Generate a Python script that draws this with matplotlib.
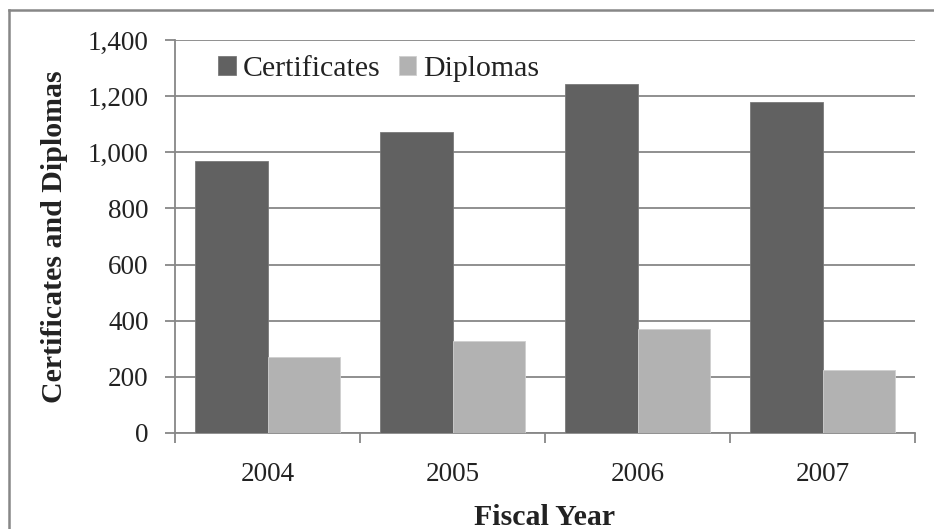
import numpy as np
import matplotlib
matplotlib.use("Agg")
import matplotlib.pyplot as plt
from matplotlib.lines import Line2D

# ─── Data ─────────────────────────────────────────────────────────────
years        = ["2004", "2005", "2006", "2007"]
certificates = [968, 1073, 1243, 1180]
diplomas     = [271, 328, 371, 223]

C_CERT = "#616161"
C_DIPL = "#b2b2b2"
C_GRID = "#878787"

plt.rcParams["font.family"] = ["Liberation Serif", "DejaVu Serif"]

fig = plt.figure(figsize=(9.34, 5.29), dpi=100)
ax = fig.add_axes([0.1874, 0.1815, 0.7923, 0.7429])

x = np.arange(len(years))
w = 0.39
ax.bar(x - w / 2, certificates, w, color=C_CERT, edgecolor="#7a7a7a",
       linewidth=0.6, label="Certificates", zorder=3)
ax.bar(x + w / 2, diplomas, w, color=C_DIPL, edgecolor="#cfcfcf",
       linewidth=0.6, label="Diplomas", zorder=3)

ax.set_xlim(-0.5, len(years) - 0.5)
ax.set_ylim(0, 1400)
ax.set_yticks(np.arange(0, 1401, 200))
ax.set_yticklabels([f"{v:,}" for v in range(0, 1401, 200)])
ax.yaxis.grid(True, color=C_GRID, linewidth=1.3, zorder=0)

# category labels centred, tick marks on the boundaries
ax.set_xticks(x)
ax.set_xticklabels(years)
ax.tick_params(axis="x", which="major", length=0, pad=21, labelsize=19.5,
               labelcolor="#222222")
ax.set_xticks(np.arange(-0.5, len(years)), minor=True)
ax.tick_params(axis="x", which="minor", length=7, color=C_GRID, width=1.3)
ax.tick_params(axis="y", length=7, color=C_GRID, width=1.3, pad=12,
               labelsize=19.5, labelcolor="#222222")

for side in ("top", "right"):
    ax.spines[side].set_visible(False)
for side in ("left", "bottom"):
    ax.spines[side].set_color(C_GRID)
    ax.spines[side].set_linewidth(1.3)

ax.set_xlabel("Fiscal Year", fontsize=21.5, fontweight="bold", labelpad=12,
              color="#222222")
ax.set_ylabel("Certificates and Diplomas", fontsize=21.5, fontweight="bold",
              labelpad=14, color="#222222")

ax.legend(loc="upper left", bbox_to_anchor=(0.038, 0.997), ncol=2,
          frameon=False, fontsize=21.5, handlelength=0.6, handleheight=0.6,
          handletextpad=0.23, columnspacing=0.6, borderpad=0,
          labelcolor="#222222")

# chart border: only the left and top edges remain in the crop
fig.add_artist(Line2D([0.0093, 0.0093], [0.0, 0.982], color=C_GRID,
                      linewidth=1.8, transform=fig.transFigure))
fig.add_artist(Line2D([0.0093, 1.0], [0.982, 0.982], color=C_GRID,
                      linewidth=1.8, transform=fig.transFigure))

fig.savefig("out.png", dpi=100)
